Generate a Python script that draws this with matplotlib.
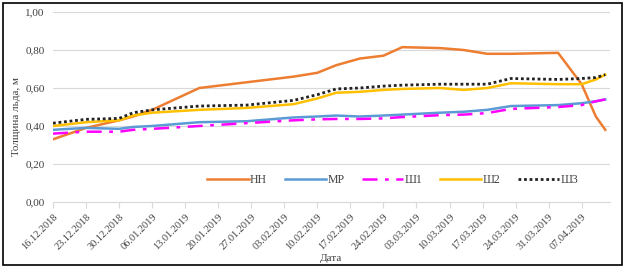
import numpy as np
import pandas as pd
import matplotlib
matplotlib.use('Agg')
import matplotlib.pyplot as plt
import matplotlib.dates as mdates
from matplotlib.patches import Rectangle
from matplotlib.ticker import FuncFormatter

plt.rcParams['font.family'] = ['Liberation Serif', 'DejaVu Serif']

# даты измерений
dates = ['16.12.2018', '23.12.2018', '30.12.2018', '02.01.2019', '06.01.2019',
         '16.01.2019', '26.01.2019', '05.02.2019', '10.02.2019', '14.02.2019',
         '19.02.2019', '24.02.2019', '28.02.2019', '08.03.2019', '13.03.2019',
         '18.03.2019', '23.03.2019', '02.04.2019', '07.04.2019', '10.04.2019',
         '12.04.2019']

# толщина льда, м
nn = [0.33, 0.39, 0.43, 0.45, 0.485, 0.60, 0.63, 0.66, 0.68, 0.72, 0.755,
      0.77, 0.815, 0.81, 0.80, 0.78, 0.78, 0.785, 0.62, 0.45, 0.38]
mr = [0.38, 0.39, 0.385, 0.395, 0.40, 0.42, 0.425, 0.445, 0.45, 0.455, 0.45,
      0.455, 0.46, 0.47, 0.475, 0.485, 0.505, 0.51, 0.52, 0.53, 0.54]
sh1 = [0.36, 0.37, 0.37, 0.38, 0.385, 0.40, 0.415, 0.43, 0.435, 0.437, 0.437,
       0.44, 0.447, 0.457, 0.46, 0.468, 0.49, 0.50, 0.51, 0.53, 0.54]
sh2 = [0.40, 0.42, 0.43, 0.455, 0.47, 0.485, 0.495, 0.515, 0.545, 0.575, 0.58,
       0.59, 0.595, 0.60, 0.59, 0.60, 0.625, 0.62, 0.62, 0.645, 0.67]
sh3 = [0.415, 0.435, 0.44, 0.47, 0.485, 0.505, 0.51, 0.535, 0.565, 0.595, 0.60,
       0.61, 0.615, 0.62, 0.62, 0.62, 0.65, 0.645, 0.65, 0.655, 0.67]

x = pd.to_datetime(dates, format='%d.%m.%Y')
ticks = pd.date_range('2018-12-16', '2019-04-07', freq='7D')

fig = plt.figure(figsize=(6.29, 2.69), dpi=100)
ax = fig.add_axes([53/629, 1 - 202/269, (610-53)/629, (202-12)/269])

ax.plot(x, nn, color='#ED7D31', lw=1.8, label='НН')
ax.plot(x, mr, color='#5B9BD5', lw=1.8, label='МР')
ax.plot(x, sh1, color='#FF00FF', lw=1.8, dashes=(6, 3, 1.5, 3), label='Ш1')
ax.plot(x, sh2, color='#FFC000', lw=1.8, label='Ш2')
ax.plot(x, sh3, color='#222222', lw=2, dashes=(1, 1), label='Ш3')

ax.set_ylim(0, 1.0)
ax.set_yticks(np.arange(0, 1.01, 0.2))
ax.yaxis.set_major_formatter(FuncFormatter(lambda v, p: f'{v:.2f}'.replace('.', ',')))
ax.set_xlim(pd.Timestamp('2018-12-16'), pd.Timestamp('2019-04-13'))
ax.set_xticks(ticks)
ax.xaxis.set_major_formatter(mdates.DateFormatter('%d.%m.%Y'))
plt.setp(ax.get_xticklabels(), rotation=45, ha='right', rotation_mode='anchor')

ax.grid(axis='y', color='#D9D9D9', lw=0.8)
ax.set_axisbelow(True)
for s in ['top', 'right', 'left']:
    ax.spines[s].set_visible(False)
ax.spines['bottom'].set_color('#D9D9D9')
ax.tick_params(axis='y', length=0, labelsize=8, colors='#404040', pad=6)
ax.tick_params(axis='x', length=4, color='#D9D9D9', labelsize=7.5, colors='#404040')

ax.set_ylabel('Толщина льда, м', fontsize=8, color='#404040')
ax.set_xlabel('Дата', fontsize=8, color='#404040', labelpad=2)
ax.yaxis.set_label_coords(-0.057, 0.45)

ax.legend(loc='center', bbox_to_anchor=(0.61, 0.116), ncol=5, frameon=False,
          fontsize=8.5, handlelength=3.5, columnspacing=1.5, handletextpad=0.1,
          labelcolor='#404040')

fig.patches.append(Rectangle((3/629, 4/269), 619/629, 262/269, transform=fig.transFigure,
                             fill=False, edgecolor='black', lw=1.2))

fig.savefig('out.png', dpi=100)
